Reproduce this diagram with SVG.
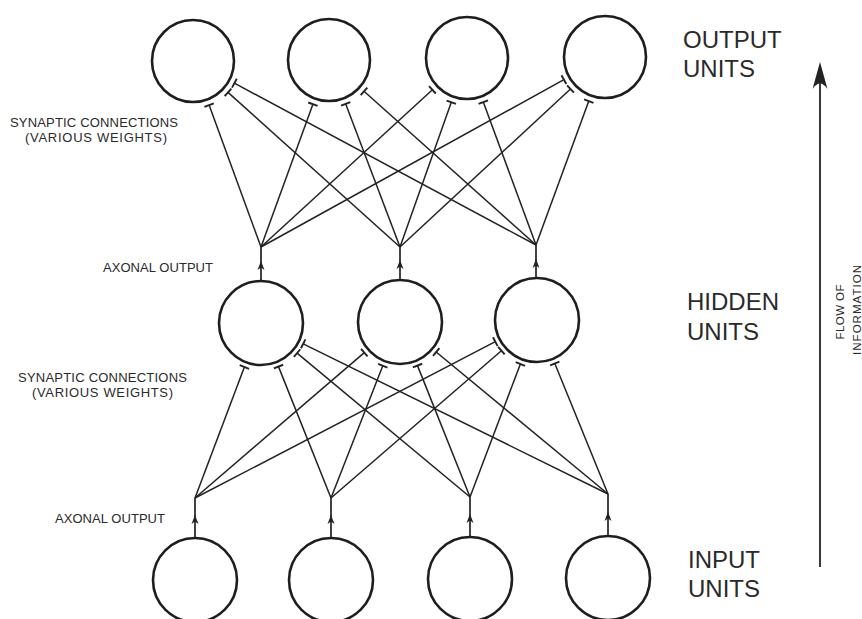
<svg xmlns="http://www.w3.org/2000/svg" width="862" height="619" viewBox="0 0 862 619">
<style>
.unit{fill:none;stroke:#1e1e1e;stroke-width:2.6}
.syn{fill:none;stroke:#222;stroke-width:1.5;marker-end:url(#tbar)}
.axon{fill:none;stroke:#222;stroke-width:1.7;marker-mid:url(#ax)}
.big{font-family:"Liberation Sans","DejaVu Sans",sans-serif;font-size:24px;fill:#2a2a2a}
.small{font-family:"Liberation Sans","DejaVu Sans",sans-serif;font-size:13px;fill:#2a2a2a}
.rot{font-family:"Liberation Sans","DejaVu Sans",sans-serif;font-size:11.5px;fill:#2a2a2a;text-anchor:middle}
</style>
<defs>
<marker id="tbar" markerUnits="userSpaceOnUse" markerWidth="14" markerHeight="14" viewBox="-7 -7 14 14" refX="0" refY="0" orient="auto">
<path d="M0,-5 L0,5" stroke="#222" stroke-width="1.9" fill="none"/>
</marker>
<marker id="ax" markerUnits="userSpaceOnUse" markerWidth="14" markerHeight="14" viewBox="-10 -7 14 14" refX="0" refY="0" orient="auto">
<path d="M2,0 L-7,-3.5 L-4.5,0 L-7,3.5 Z" fill="#222"/>
</marker>
</defs>
<rect width="862" height="619" fill="#ffffff"/>
<g id="connectors">
<path class="syn" d="M261,247 L209.1,105.1"/>
<path class="syn" d="M261,247 L312.9,104.2"/>
<path class="syn" d="M261,247 L432.4,89.8"/>
<path class="syn" d="M261,247 L563.9,79.7"/>
<path class="syn" d="M400,247 L228.0,92.4"/>
<path class="syn" d="M400,247 L345.7,103.9"/>
<path class="syn" d="M400,247 L451.3,102.3"/>
<path class="syn" d="M400,247 L570.5,89.0"/>
<path class="syn" d="M536,245 L234.4,83.2"/>
<path class="syn" d="M536,245 L364.0,91.3"/>
<path class="syn" d="M536,245 L483.3,102.1"/>
<path class="syn" d="M536,245 L588.8,101.1"/>
<path class="syn" d="M195,498 L244.4,367.0"/>
<path class="syn" d="M195,498 L364.3,352.6"/>
<path class="syn" d="M195,498 L495.3,341.7"/>
<path class="syn" d="M331,498 L278.5,366.6"/>
<path class="syn" d="M331,498 L382.8,365.8"/>
<path class="syn" d="M331,498 L501.4,350.7"/>
<path class="syn" d="M470,497 L297.1,353.1"/>
<path class="syn" d="M470,497 L417.5,365.6"/>
<path class="syn" d="M470,497 L520.4,364.0"/>
<path class="syn" d="M608,494 L303.2,343.8"/>
<path class="syn" d="M608,494 L436.2,352.0"/>
<path class="syn" d="M608,494 L554.8,363.5"/>
<path class="axon" d="M195,539 L195,517 L195,498"/>
<path class="axon" d="M331,539 L331,517 L331,498"/>
<path class="axon" d="M470,538 L470,516 L470,497"/>
<path class="axon" d="M608,537 L608,514 L608,494"/>
<path class="axon" d="M261,281 L261,263 L261,247"/>
<path class="axon" d="M400,280 L400,262 L400,247"/>
<path class="axon" d="M536,278 L536,261 L536,245"/>
</g>
<g id="output1"><circle class="unit" cx="193" cy="61" r="41"/></g>
<g id="output2"><circle class="unit" cx="329" cy="60" r="41"/></g>
<g id="output3"><circle class="unit" cx="467" cy="58" r="41"/></g>
<g id="output4"><circle class="unit" cx="605" cy="57" r="41"/></g>
<g id="hidden1"><circle class="unit" cx="261" cy="323" r="42"/></g>
<g id="hidden2"><circle class="unit" cx="400" cy="322" r="42"/></g>
<g id="hidden3"><circle class="unit" cx="537" cy="320" r="42"/></g>
<g id="input1"><circle class="unit" cx="195" cy="580" r="42"/></g>
<g id="input2"><circle class="unit" cx="331" cy="580" r="42"/></g>
<g id="input3"><circle class="unit" cx="470" cy="579" r="42"/></g>
<g id="input4"><circle class="unit" cx="608" cy="578" r="42"/></g>
<g id="labels">
<text class="big" x="683" y="48">OUTPUT</text>
<text class="big" x="683" y="77">UNITS</text>
<text class="big" x="687" y="310">HIDDEN</text>
<text class="big" x="687" y="340">UNITS</text>
<text class="big" x="688" y="568">INPUT</text>
<text class="big" x="688" y="597">UNITS</text>
<text class="small" x="10" y="127" textLength="168" lengthAdjust="spacing">SYNAPTIC CONNECTIONS</text>
<text class="small" x="25" y="142" textLength="142" lengthAdjust="spacing">(VARIOUS WEIGHTS)</text>
<text class="small" x="103" y="272" textLength="110" lengthAdjust="spacing">AXONAL OUTPUT</text>
<text class="small" x="18" y="382" textLength="169" lengthAdjust="spacing">SYNAPTIC CONNECTIONS</text>
<text class="small" x="32" y="397" textLength="141" lengthAdjust="spacing">(VARIOUS WEIGHTS)</text>
<text class="small" x="55" y="523" textLength="110" lengthAdjust="spacing">AXONAL OUTPUT</text>
</g>
<g id="flow">
<path d="M820,567 L820,70" stroke="#222" stroke-width="1.8" fill="none"/>
<path d="M820,62 L812.5,89 Q820,78 827.5,89 Z" fill="#222"/>
<text class="rot" transform="translate(844,312) rotate(-90)" textLength="55" lengthAdjust="spacing">FLOW OF</text>
<text class="rot" transform="translate(861,310) rotate(-90)" textLength="90" lengthAdjust="spacing">INFORMATION</text>
</g>
</svg>
